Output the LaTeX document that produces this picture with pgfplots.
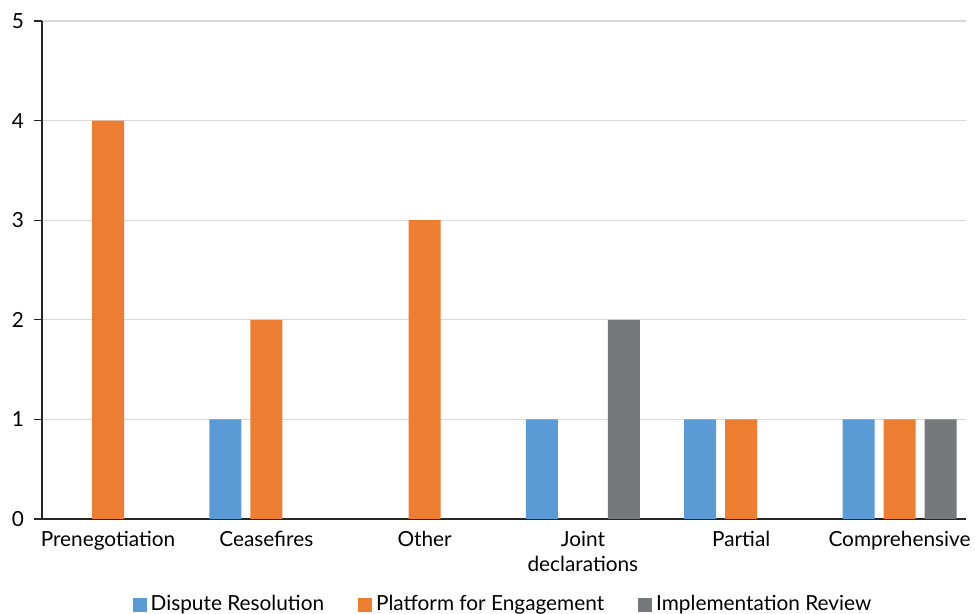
\documentclass[border=0pt]{standalone}
\usepackage{pgfplots}
\pgfplotsset{compat=1.18}
\usepackage{fontspec}
\setmainfont{Lato}

\definecolor{dispute}{HTML}{5B9BD5}
\definecolor{platform}{HTML}{ED7D31}
\definecolor{implement}{HTML}{77787C}
\definecolor{gridgray}{HTML}{D9D9D9}
\definecolor{axisdark}{HTML}{262626}

\begin{document}
\begin{tikzpicture}
\begin{axis}[
  at={(0,0)}, anchor=south west,
  scale only axis,
  width=462pt, height=249pt,
  xmin=-0.417, xmax=5.42,
  ymin=0, ymax=5,
  ytick={0,1,2,3,4,5},
  xtick={0,1,2,3,4,5},
  xticklabels={Prenegotiation,Ceasefires,Other,{Joint\\declarations},Partial,Comprehensive},
  axis lines=left,
  axis line style={-, draw=axisdark, line width=0.6pt},
  ymajorgrids,
  major grid style={draw=gridgray, line width=0.6pt},
  tick align=outside,
  major tick length=4pt,
  ytick style={draw=axisdark, line width=0.6pt},
  xtick style={draw=none},
  tick label style={font=\fontsize{10.4}{12.5}\selectfont, text=black},
  xticklabel style={align=center, yshift=1.5pt},
  yticklabel style={xshift=-1.5pt},
  /pgf/number format/assume math mode=true,
  ybar,
  bar width=16pt,
  legend style={
    at={(0.5,-0.172)}, anchor=center,
    draw=none, fill=none,
    legend columns=3,
    font=\fontsize{10.4}{12}\selectfont,
    /tikz/every even column/.append style={column sep=15pt},
    /tikz/every odd column/.append style={column sep=0pt},
  },
  legend image code/.code={
    \fill[#1] (0pt,-3.5pt) rectangle (7pt,3.5pt);
  },
]
\addplot[fill=dispute, draw=none, bar shift=-20.5pt] coordinates {
  (1,1) (3,1) (4,1) (5,1)
};
\addlegendentry{Dispute Resolution}
\addplot[fill=platform, draw=none, bar shift=0pt] coordinates {
  (0,4) (1,2) (2,3) (4,1) (5,1)
};
\addlegendentry{Platform for Engagement}
\addplot[fill=implement, draw=none, bar shift=20.5pt] coordinates {
  (3,2) (5,1)
};
\addlegendentry{Implementation Review}
\end{axis}
\pgfresetboundingbox
\path (-21pt,-47.5pt) rectangle (466.5pt,259.5pt);
\end{tikzpicture}
\end{document}
